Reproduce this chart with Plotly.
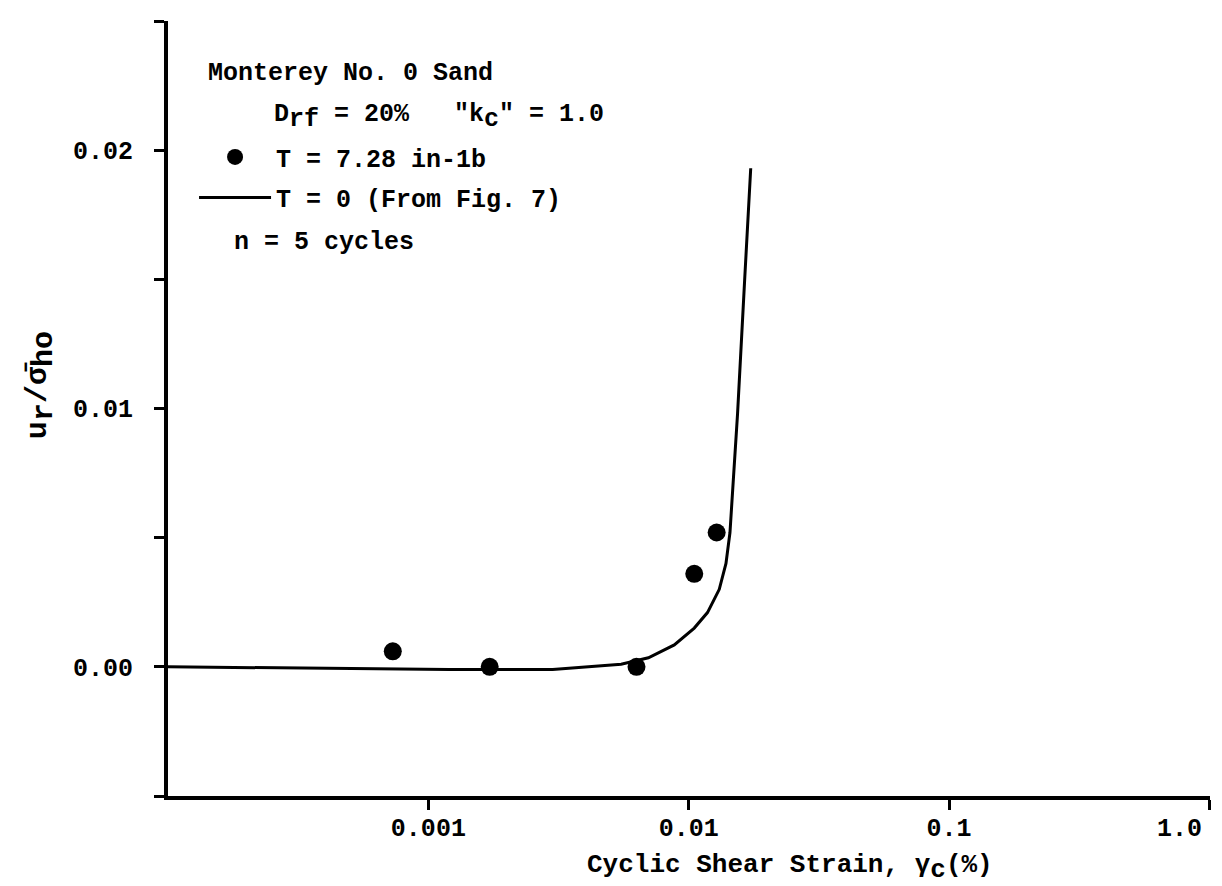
import plotly.graph_objects as go

# T = 7.28 in-lb test points
strain_torque = [0.00073, 0.00172, 0.0063, 0.0105, 0.0128]
ratio_torque = [0.0006, 0.0, 0.0, 0.0036, 0.0052]

# T = 0 curve (from Fig. 7)
strain_no_torque = [0.0001, 0.0012, 0.003, 0.0055, 0.007, 0.0088, 0.0105,
                    0.0118, 0.0131, 0.0139, 0.0144, 0.0148, 0.0154, 0.0164, 0.0173]
ratio_no_torque = [0.0, -0.0001, -0.0001, 0.0001, 0.00035, 0.00085, 0.0015,
                   0.0021, 0.003, 0.004, 0.0052, 0.007, 0.0098, 0.015, 0.0193]

x_ticks = [0.001, 0.01, 0.1, 1.0]
# trailing no-break spaces pull the last label in from the right edge
x_tick_labels = ["0.001", "0.01", "0.1", "1.0\u00a0\u00a0\u00a0\u00a0"]
y_ticks = [0.0, 0.01, 0.02]
y_tick_labels = ["0.00", "0.01", "0.02"]

FONT = "Liberation Mono, Courier New, monospace"


def sub(s, size=25):
    # typewriter-style subscript: dropped a half line but kept full size
    return f'<sub><span style="font-size:{size}px">{s}</span></sub>'


fig = go.Figure()
fig.add_trace(
    go.Scatter(
        x=strain_torque,
        y=ratio_torque,
        mode="markers",
        name="T = 7.28 in-1b",
        legendgroup="a",
        marker=dict(color="black", size=18),
    )
)
fig.add_trace(
    go.Scatter(
        x=strain_no_torque,
        y=ratio_no_torque,
        mode="lines",
        name="T = 0 (From Fig. 7)",
        legendgroup="b",
        line=dict(color="black", width=3),
    )
)

axis_common = dict(
    showline=True,
    linecolor="black",
    linewidth=4,
    showgrid=False,
    zeroline=False,
    ticks="outside",
    tickcolor="black",
    tickwidth=3,
    ticklen=10,
    mirror=False,
    automargin=False,
)

fig.update_layout(
    width=1222,
    height=886,
    margin=dict(l=160, r=20, t=13, b=98),
    paper_bgcolor="white",
    plot_bgcolor="white",
    font=dict(family=FONT, size=25, color="black", weight="bold"),
    showlegend=True,
    legend=dict(
        x=0.025, y=0.854, xanchor="left", yanchor="top",
        bgcolor="rgba(0,0,0,0)", itemwidth=72, tracegroupgap=5,
        font=dict(size=25),
    ),
    xaxis=dict(
        type="log",
        range=[-4, 0.002],
        tickvals=x_ticks,
        ticktext=x_tick_labels,
        ticklabelstandoff=-4,
        ticklabeloverflow="allow",
        **axis_common,
    ),
    yaxis=dict(
        range=[-0.005, 0.025],
        tickvals=y_ticks,
        ticktext=y_tick_labels,
        ticklabelstandoff=16,
        minor=dict(dtick=0.005, ticks="outside", ticklen=10, tickwidth=3,
                   tickcolor="black", showgrid=False),
        **axis_common,
    ),
    annotations=[
        dict(text="Cyclic Shear Strain, γ" + sub("c", 26) + "(%)",
             x=0.597, y=-0.092, xref="paper", yref="paper",
             xanchor="center", yanchor="middle", showarrow=False, font=dict(size=26)),
        dict(text="u" + sub("r", 30) + "/σ̄" + sub("ho", 30), textangle=-90,
             x=-0.122, y=0.53, xref="paper", yref="paper",
             xanchor="center", yanchor="middle", showarrow=False, font=dict(size=30)),
        dict(text="Monterey No. 0 Sand", x=0.036, y=0.932, xref="paper", yref="paper",
             xanchor="left", yanchor="middle", showarrow=False),
        dict(text="D" + sub("rf") + " = 20%   \"k" + sub("c") + "\" = 1.0", x=0.1, y=0.876,
             xref="paper", yref="paper", xanchor="left", yanchor="middle", showarrow=False),
        dict(text="n = 5 cycles", x=0.061, y=0.714, xref="paper", yref="paper",
             xanchor="left", yanchor="middle", showarrow=False),
    ],
)

fig.write_html("out.html")
